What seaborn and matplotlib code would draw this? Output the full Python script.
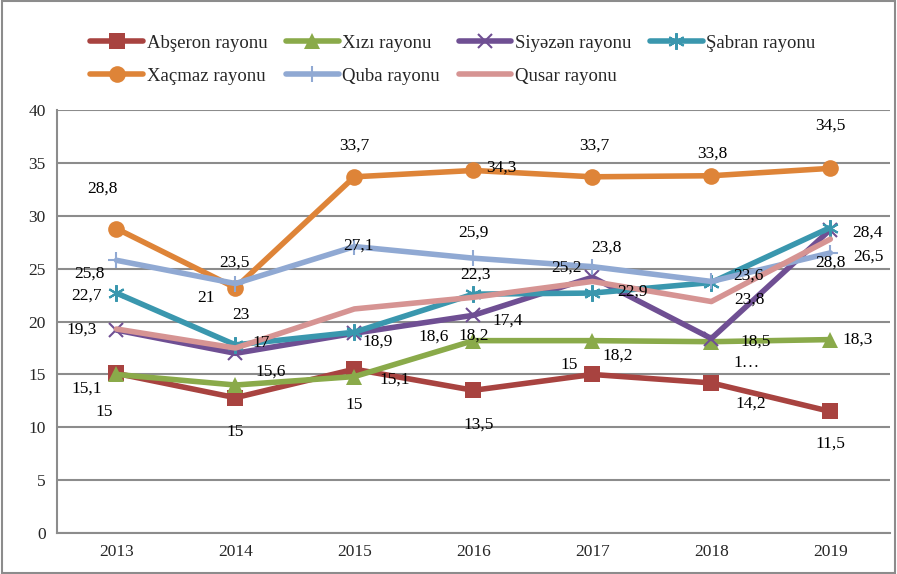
import matplotlib
matplotlib.use("Agg")
import matplotlib.pyplot as plt
import seaborn as sns
from matplotlib.patches import Rectangle

# --- data ---
years = ["2013", "2014", "2015", "2016", "2017", "2018", "2019"]
rayonlar = ["Abşeron rayonu", "Xızı rayonu", "Siyəzən rayonu", "Şabran rayonu",
            "Xaçmaz rayonu", "Quba rayonu", "Qusar rayonu"]

abseron = [15.1, 12.8, 15.5, 13.5, 15.0, 14.2, 11.5]
xizi = [15.0, 14.0, 14.8, 18.2, 18.2, 18.1, 18.3]
siyezen = [19.2, 17.0, 18.9, 20.6, 24.2, 18.4, 28.7]
sabran = [22.7, 17.8, 19.0, 22.6, 22.7, 23.7, 28.9]
xacmaz = [28.8, 23.2, 33.7, 34.3, 33.7, 33.8, 34.5]
quba = [25.8, 23.6, 27.1, 26.0, 25.2, 23.8, 26.5]
qusar = [19.3, 17.5, 21.2, 22.3, 23.8, 21.9, 27.8]

# data labels as printed on the chart
abseron_lbl = ["15,1", "15", "15,1", "13,5", "15", "14,2", "11,5"]
xizi_lbl = ["15", "15,6", "15", "18,2", "18,2", "1…", "18,3"]
siyezen_lbl = ["19,3", "", "18,6", "17,4", "23,8", "18,5", "28,8"]
sabran_lbl = ["22,7", "17", "18,9", "22,3", "22,9", "23,8", "28,4"]
xacmaz_lbl = ["28,8", "23", "33,7", "34,3", "33,7", "33,8", "34,5"]
quba_lbl = ["25,8", "23,5", "27,1", "25,9", "25,2", "23,6", "26,5"]
qusar_lbl = ["", "21", "", "", "", "", ""]

# --- styling ---
colors = ["#A84340", "#8AAA4A", "#6F4F93", "#3A97AE", "#DE8438", "#90A9D3", "#D69493"]
markers = ["s", "^", "x", (6, 2, 0), "o", "+", None]
msizes = [11, 11, 10, 12, 12, 12, 0]

# label offsets in pixels (dx, dy up)
offsets = [
    [(-30, -15), (0, -34), (40, -10), (5, -34), (-23, 9), (39, -21), (0, -32)],
    [(-12, -38), (35, 13), (0, -28), (0, 5), (25, -15), (35, -21), (27, 0)],
    [(-35, 0), (0, 0), (79, -3), (34, -5), (14, 30), (44, -3), (0, -33)],
    [(-30, -3), (26, 2), (23, -9), (2, 19), (40, 1), (38, -17), (37, -5)],
    [(-14, 40), (6, -27), (0, 31), (28, 3), (2, 31), (1, 22), (0, 43)],
    [(-27, -13), (-1, 21), (4, 1), (0, 26), (-26, -1), (37, 6), (38, -4)],
    [(0, 0), (-29, 50), (0, 0), (0, 0), (0, 0), (0, 0), (0, 0)],
]

series = [abseron, xizi, siyezen, sabran, xacmaz, quba, qusar]
labels = [abseron_lbl, xizi_lbl, siyezen_lbl, sabran_lbl, xacmaz_lbl, quba_lbl, qusar_lbl]

sns.set_style("white")
plt.rcParams["font.family"] = ["Liberation Serif", "DejaVu Serif"]

fig = plt.figure(figsize=(8.97, 5.74), dpi=100)
ax = fig.add_axes([0.0635, 0.0714, 0.9285, 0.7366])

xpos = list(range(len(years)))
handles = []
for vals, name, col, mk, ms in zip(series, rayonlar, colors, markers, msizes):
    sns.lineplot(x=xpos, y=vals, ax=ax, color=col, linewidth=4, marker=mk,
                 markersize=ms, markeredgewidth=1.5 if mk in ("x", "+", (6, 2, 0)) else 0,
                 markeredgecolor=col, label=name, legend=False)
    handles.append(ax.lines[-1])

for vals, lbls, offs in zip(series, labels, offsets):
    for i, (v, t, o) in enumerate(zip(vals, lbls, offs)):
        if t:
            ax.annotate(t, (i, v), xytext=o, textcoords="offset pixels",
                        ha="center", va="center", fontsize=12.5, color="black")

ax.set_xlim(-0.5, 6.5)
ax.set_ylim(0, 40)
ax.set_yticks(range(0, 41, 5))
ax.set_xticks(xpos)
ax.set_xticklabels(years)
ax.tick_params(axis="both", labelsize=12.5, length=0, pad=8)
ax.yaxis.grid(True, color="#8c8c8c", linewidth=1.5)
ax.set_axisbelow(True)
for s in ["top", "right"]:
    ax.spines[s].set_visible(False)
for s in ["left", "bottom"]:
    ax.spines[s].set_color("#8c8c8c")
    ax.spines[s].set_linewidth(1.5)
ax.set_xlabel("")
ax.set_ylabel("")

order = [0, 4, 1, 5, 2, 6, 3]
fig.legend([handles[i] for i in order], [rayonlar[i] for i in order],
           loc="upper center", bbox_to_anchor=(0.505, 0.94), ncol=4, frameon=False,
           fontsize=13.5, handlelength=2.8, handletextpad=0.2, columnspacing=1.0,
           labelspacing=0.85, borderpad=0, borderaxespad=0)

fig.patches.append(Rectangle((0.002, 0.002), 0.996, 0.996, transform=fig.transFigure,
                             fill=False, edgecolor="#8c8c8c", linewidth=1.5))

fig.savefig("out.png", dpi=100)
